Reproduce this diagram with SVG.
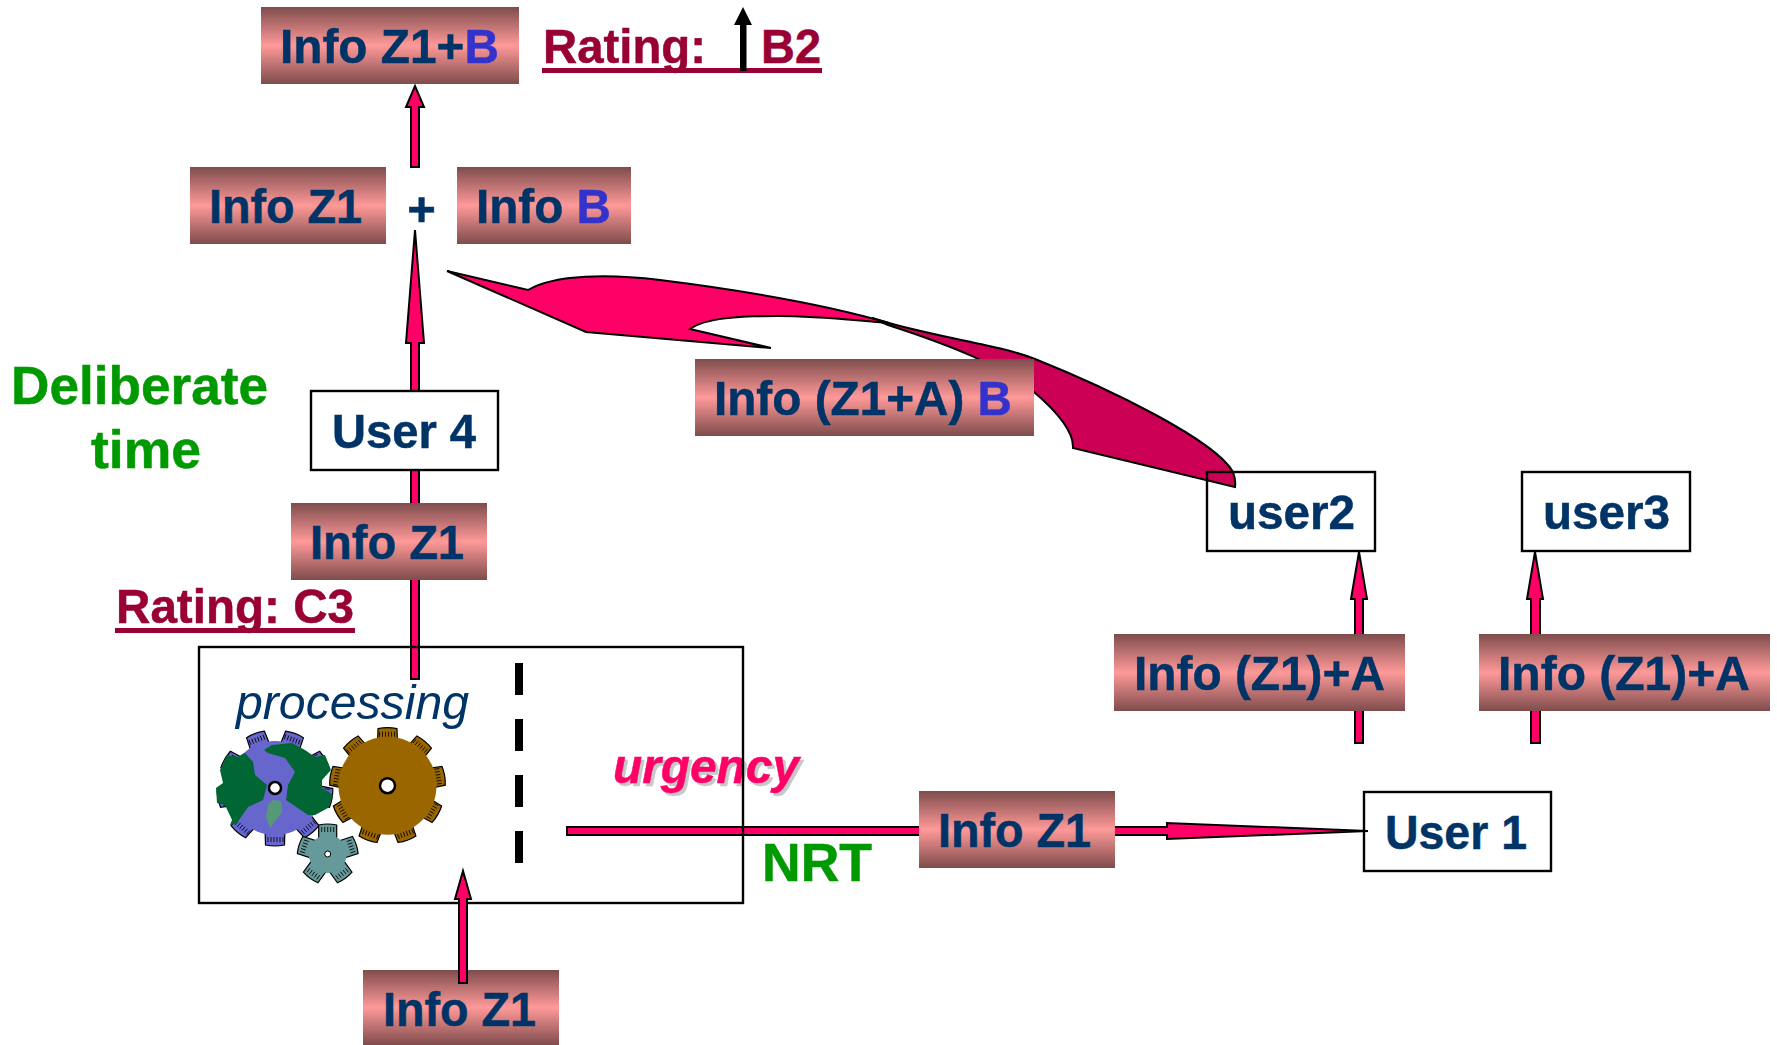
<svg xmlns="http://www.w3.org/2000/svg" xmlns:xlink="http://www.w3.org/1999/xlink" width="1777" height="1045" viewBox="0 0 1777 1045">
<style>
text{font-family:"Liberation Sans",Arial,sans-serif;font-weight:bold;font-size:49px;fill:#003366;stroke:#003366;stroke-width:.5}
tspan.b{fill:#3333CC;stroke:#3333CC}
text.r{fill:#990033;stroke:#990033}
text.g{fill:#009900;stroke:#009900;font-size:53px}
.bar{fill:url(#bar)}
.box{fill:#fff;stroke:#000;stroke-width:2.4}
.line{fill:none;stroke:#000;stroke-width:2.4}
.ar{fill:#FF0066;stroke:#000;stroke-width:2;stroke-linejoin:miter}
.dark{fill:#CC0055;stroke:#000;stroke-width:2}
.gear{stroke:#000;stroke-width:1.2}
.hatch{stroke:#000;stroke-width:.8;fill:none}
</style>
<defs>
<linearGradient id="bar" x1="0" y1="0" x2="0" y2="1">
<stop offset="0" stop-color="#7F4C4C"/><stop offset=".5" stop-color="#FF9999"/><stop offset="1" stop-color="#7F4C4C"/>
</linearGradient>
<path id="tb" d="M-10,-40 L-9.500,-57 Q0,-59 9.500,-57 L10,-40 Z"/>
<path id="hb" class="hatch" d="M-8,-54V-49M-5,-54V-49M-2,-54V-49M1,-54V-49M4,-54V-49M7,-54V-49"/>
<path id="ts" d="M-9,-12 L-9,-29 Q0,-31 9,-29 L9,-12 Z"/>
<path id="hs" class="hatch" d="M-6,-27V-22M-3,-27V-22M0,-27V-22M3,-27V-22M6,-27V-22"/>
</defs>
<rect width="1777" height="1045" fill="#fff"/>

<g id="connectors">
<path class="ar" d="M567,827H1167V823L1368,831L1167,839V835H567Z"/>
<path class="ar" d="M411,167V107H406L415,86L424,107H419V167Z"/>
<path class="ar" d="M411,679V343H406L415,230L424,343H419V679Z"/>
<path class="ar" d="M1355,743V599H1351L1359,552L1367,599H1363V743Z"/>
<path class="ar" d="M1531,743V599H1527L1535,552L1543,599H1540V743Z"/>
<path class="dark" d="M872,318L889,323C950,340 1000,345 1035,359C1110,389 1215,440 1233,472Q1236,480 1235,487L1073,448C1074,430 1055,410 1034,392C1000,365 950,345 888,325Z"/>
<path class="ar" d="M447,271L528,290C555,274 610,274 660,280C740,290 820,303 889,323C850,320 820,316 778,316C740,316 705,318 690,329L771,348L586,332Z"/>
</g>

<g id="rating-top">
<text class="r" x="543" y="63" textLength="163" lengthAdjust="spacingAndGlyphs">Rating:</text>
<text class="r" x="761" y="63" textLength="60" lengthAdjust="spacingAndGlyphs">B2</text>
<rect x="542" y="68" width="280" height="5" fill="#990033"/>
<path d="M740,71V25H734L743,7L752,25H746.500V71Z" fill="#000"/>
</g>

<g id="info-z1b"><rect class="bar" x="261" y="7" width="258" height="77"/><text x="280" y="63" textLength="219" lengthAdjust="spacingAndGlyphs">Info Z1+<tspan class="b">B</tspan></text></g>
<g id="info-z1-top"><rect class="bar" x="190" y="167" width="196" height="77"/><text x="209" y="223" textLength="153" lengthAdjust="spacingAndGlyphs">Info Z1</text></g>
<text id="plus" x="421.500" y="226" text-anchor="middle">+</text>
<g id="info-b"><rect class="bar" x="457" y="167" width="174" height="77"/><text x="476" y="223" textLength="135" lengthAdjust="spacingAndGlyphs">Info <tspan class="b">B</tspan></text></g>
<g id="info-z1a-b"><rect class="bar" x="695" y="359" width="339" height="77"/><text x="714" y="415" textLength="298" lengthAdjust="spacingAndGlyphs">Info (Z1+A) <tspan class="b">B</tspan></text></g>
<g id="deliberate"><text class="g" x="11" y="404" textLength="257" lengthAdjust="spacingAndGlyphs">Deliberate</text><text class="g" x="91" y="468" textLength="110" lengthAdjust="spacingAndGlyphs">time</text></g>
<g id="user4"><rect class="box" x="311" y="391" width="187" height="79"/><text x="332" y="448" textLength="144" lengthAdjust="spacingAndGlyphs">User 4</text></g>
<g id="info-z1-mid"><rect class="bar" x="291" y="503" width="196" height="77"/><text x="310" y="559" textLength="154" lengthAdjust="spacingAndGlyphs">Info Z1</text></g>
<g id="rating-c3"><text class="r" x="116" y="623" textLength="238" lengthAdjust="spacingAndGlyphs">Rating: C3</text><rect x="115" y="628" width="240" height="5" fill="#990033"/></g>

<g id="user2"><rect class="line" x="1207" y="472" width="168" height="79"/><text x="1228" y="529" textLength="127" lengthAdjust="spacingAndGlyphs">user2</text></g>
<g id="user3"><rect class="box" x="1522" y="472" width="168" height="79"/><text x="1543" y="529" textLength="127" lengthAdjust="spacingAndGlyphs">user3</text></g>
<g id="info-z1a-1"><rect class="bar" x="1114" y="634" width="291" height="77"/><text x="1134" y="690" textLength="251" lengthAdjust="spacingAndGlyphs">Info (Z1)+A</text></g>
<g id="info-z1a-2"><rect class="bar" x="1479" y="634" width="291" height="77"/><text x="1498" y="690" textLength="252" lengthAdjust="spacingAndGlyphs">Info (Z1)+A</text></g>
<g id="user1"><rect class="line" x="1364" y="792" width="187" height="79"/><text x="1385" y="849" textLength="142" lengthAdjust="spacingAndGlyphs">User 1</text></g>
<g id="info-z1-right"><rect class="bar" x="919" y="791" width="196" height="77"/><text x="938" y="847" textLength="153" lengthAdjust="spacingAndGlyphs">Info Z1</text></g>

<g id="urgency">
<text x="616" y="786" font-style="italic" textLength="186" lengthAdjust="spacingAndGlyphs" style="fill:#c8c8c8;stroke:#c8c8c8">urgency</text>
<text x="613" y="783" font-style="italic" textLength="186" lengthAdjust="spacingAndGlyphs" style="fill:#FF0066;stroke:#FF0066">urgency</text>
</g>
<text id="nrt" class="g" x="762" y="881" textLength="110" lengthAdjust="spacingAndGlyphs">NRT</text>

<g id="processing">
<rect class="line" x="199" y="647" width="544" height="256"/>
<text x="236" y="719" font-style="italic" textLength="233" lengthAdjust="spacingAndGlyphs" style="font-weight:normal;stroke:none">processing</text>
<path d="M519,663V863" stroke="#000" stroke-width="8" stroke-dasharray="32 24" fill="none"/>

<g id="gear-brown" transform="translate(387.500,785.700)" fill="#996600" class="gear">
<use href="#tb"/><use href="#tb" transform="rotate(40)"/><use href="#tb" transform="rotate(80)"/><use href="#tb" transform="rotate(120)"/><use href="#tb" transform="rotate(160)"/><use href="#tb" transform="rotate(200)"/><use href="#tb" transform="rotate(240)"/><use href="#tb" transform="rotate(280)"/><use href="#tb" transform="rotate(320)"/>
<use href="#hb"/><use href="#hb" transform="rotate(40)"/><use href="#hb" transform="rotate(80)"/><use href="#hb" transform="rotate(120)"/><use href="#hb" transform="rotate(160)"/><use href="#hb" transform="rotate(200)"/><use href="#hb" transform="rotate(240)"/><use href="#hb" transform="rotate(280)"/><use href="#hb" transform="rotate(320)"/>
<circle r="49" stroke="none"/>
<circle r="7.500" fill="#fff" stroke="#000" stroke-width="2.500"/>
</g>

<g id="gear-globe" transform="translate(275,788)" fill="#6666CC" class="gear">
<g transform="rotate(-20)">
<use href="#tb"/><use href="#tb" transform="rotate(40)"/><use href="#tb" transform="rotate(80)"/><use href="#tb" transform="rotate(120)"/><use href="#tb" transform="rotate(160)"/><use href="#tb" transform="rotate(200)"/><use href="#tb" transform="rotate(240)"/><use href="#tb" transform="rotate(280)"/><use href="#tb" transform="rotate(320)"/>
<use href="#hb"/><use href="#hb" transform="rotate(40)"/><use href="#hb" transform="rotate(80)"/><use href="#hb" transform="rotate(120)"/><use href="#hb" transform="rotate(160)"/><use href="#hb" transform="rotate(200)"/><use href="#hb" transform="rotate(240)"/><use href="#hb" transform="rotate(280)"/><use href="#hb" transform="rotate(320)"/>
</g>
<circle r="47" stroke="none"/>
</g>
<g id="globe-land" stroke="none">
<path fill="#006633" d="M245,753L253,762L255,775L267,785L263,800L248,807L237,823L230,825L232,820L225,805L217,803L216,788L223,783L220,770L227,755L237,757Z"/>
<path fill="#006633" d="M264,750L272,745L292,743L305,750L315,757L325,755L331,770L322,780L322,788L333,795L328,808L315,815L308,815L286,800L288,785L295,772L285,758L268,753Z"/>
<path fill="#559977" d="M273,800L281,801L282,812L270,828L266,817L268,805Z"/>
</g>
<circle cx="275" cy="788" r="6" fill="#fff" stroke="#000" stroke-width="2.500"/>

<g id="gear-small" transform="translate(327.700,854)" fill="#669999" class="gear">
<use href="#ts"/><use href="#ts" transform="rotate(72)"/><use href="#ts" transform="rotate(144)"/><use href="#ts" transform="rotate(216)"/><use href="#ts" transform="rotate(288)"/>
<use href="#hs"/><use href="#hs" transform="rotate(72)"/><use href="#hs" transform="rotate(144)"/><use href="#hs" transform="rotate(216)"/><use href="#hs" transform="rotate(288)"/>
<circle r="19" stroke="none"/>
<circle r="3" fill="#fff" stroke="#000" stroke-width="1"/>
</g>
</g>

<g id="info-z1-bottom"><rect class="bar" x="363" y="970" width="196" height="75"/><text x="383" y="1026" textLength="153" lengthAdjust="spacingAndGlyphs">Info Z1</text></g>
<g id="connectors-top">
<path class="ar" d="M459,983V899H455L463,871L471,899H467V983Z"/>
</g>
</svg>
